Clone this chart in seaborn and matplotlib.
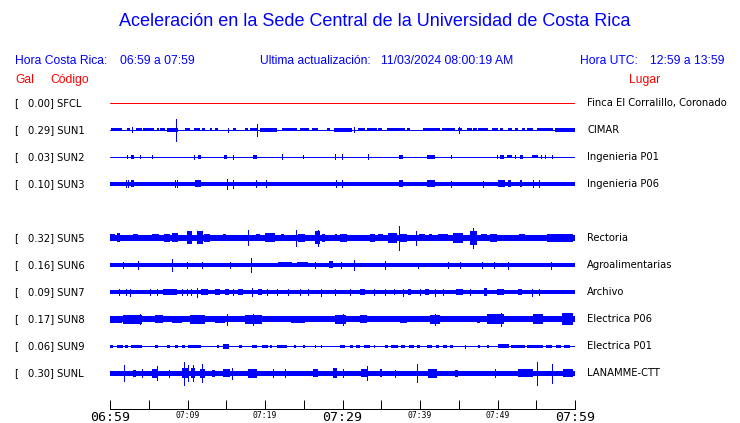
import numpy as np
import pandas as pd
import seaborn as sns
import matplotlib
matplotlib.use("Agg")
import matplotlib.pyplot as plt
from matplotlib.transforms import blended_transform_factory

# time axis: minutes after 06:59 (hora Costa Rica)
t_start, t_end = 0, 60
tick_minutes = list(range(0, 61, 5))
tick_labels = ["06:59", "", "07:09", "", "07:19", "", "07:29", "", "07:39", "", "07:49", "", "07:59"]
big_ticks = ["06:59", "07:29", "07:59"]

codes = ["SFCL", "SUN1", "SUN2", "SUN3", "SUN5", "SUN6", "SUN7", "SUN8", "SUN9", "SUNL"]
places = ["Finca El Corralillo, Coronado", "CIMAR", "Ingenieria P01", "Ingenieria P06",
          "Rectoria", "Agroalimentarias", "Archivo", "Electrica P06", "Electrica P01", "LANAMME-CTT"]
gal = [0.00, 0.29, 0.03, 0.10, 0.32, 0.16, 0.09, 0.17, 0.06, 0.30]
slot = [0, 1, 2, 3, 5, 6, 7, 8, 9, 10]   # SUN4 has no trace

# trace amplitudes (half height, in pixels of the 27 px row)
base_amp = [0.0, 0.5, 0.5, 2.2, 3.0, 2.2, 2.0, 3.0, 0.5, 2.5]

# (start min, end min, half height)
sfcl_blobs = []
sun1_blobs = [(0.1, 1.5, 1.5), (2.2, 2.6, 1.5), (3.4, 4.1, 1.5), (4.3, 5.7, 1.5), (6.1, 6.3, 1.5),
              (6.5, 7.1, 1.5), (7.4, 8.8, 1.8), (9.7, 10.3, 1.5), (10.8, 11.6, 1.5), (11.9, 12.3, 1.5),
              (12.9, 13.2, 1.5), (13.5, 13.9, 1.5), (15.9, 16.3, 1.5), (17.4, 17.8, 1.5), (18.1, 19.1, 1.5),
              (19.4, 21.5, 2.0), (22.2, 24.1, 1.5), (24.5, 25.7, 1.5), (26.1, 26.8, 1.5), (28.0, 28.4, 1.5),
              (28.9, 31.2, 1.8), (32.0, 32.9, 1.5), (33.2, 34.5, 1.5), (34.6, 35.1, 1.5), (35.7, 38.1, 1.5),
              (38.3, 38.7, 1.5), (40.4, 42.6, 1.5), (42.8, 44.5, 1.5), (44.9, 45.4, 1.5), (46.1, 46.7, 1.5),
              (46.8, 47.4, 1.5), (47.5, 48.8, 1.5), (49.3, 50.1, 1.5), (50.3, 50.7, 1.5), (51.4, 51.9, 1.5),
              (52.3, 52.6, 1.5), (53.2, 53.5, 1.5), (53.8, 54.6, 1.5), (55.1, 57.2, 1.5), (57.4, 60.0, 2.0)]
sun2_blobs = [(2.7, 3.1, 2.0), (11.4, 11.7, 2.0), (14.7, 15.1, 2.0), (18.5, 19.0, 2.0), (37.3, 37.8, 2.0),
              (40.9, 41.9, 2.0), (50.3, 50.8, 2.0), (51.2, 51.9, 1.5), (52.9, 53.3, 2.0), (54.5, 55.2, 1.5)]
sun3_blobs = [(2.7, 3.1, 3.5), (11.0, 11.7, 3.5), (37.3, 37.8, 3.5), (40.9, 41.9, 3.5), (50.1, 51.0, 3.5),
              (51.3, 51.7, 3.5), (52.9, 53.2, 3.5)]
sun5_blobs = [(0.0, 0.6, 3.5), (0.9, 1.3, 4.5), (3.0, 3.6, 3.5), (5.4, 6.3, 3.5), (7.0, 7.7, 4.0),
              (8.0, 8.8, 4.5), (9.9, 10.6, 6.5), (11.2, 12.0, 6.5), (12.1, 12.9, 4.0), (14.6, 15.0, 3.5),
              (18.9, 19.3, 3.5), (20.0, 21.3, 4.5), (22.1, 22.5, 3.5), (24.3, 25.2, 4.0), (26.5, 27.1, 6.5),
              (27.3, 27.7, 4.0), (29.0, 29.3, 3.5), (29.7, 30.6, 4.0), (33.5, 34.2, 4.0), (34.6, 35.2, 3.5),
              (35.9, 37.0, 5.0), (37.4, 38.3, 4.0), (39.9, 40.7, 3.5), (41.2, 41.6, 3.5), (42.3, 43.6, 3.5),
              (44.3, 45.5, 5.0), (46.5, 47.4, 7.0), (47.9, 48.7, 3.5), (49.0, 49.9, 4.0), (52.8, 53.6, 3.5),
              (56.4, 59.7, 4.0)]
sun6_blobs = [(21.7, 23.5, 2.5), (24.1, 25.5, 2.5), (28.3, 28.8, 3.5)]
sun7_blobs = [(6.9, 8.6, 3.0), (11.8, 12.7, 3.0), (13.5, 14.2, 3.0), (14.8, 15.3, 3.0), (16.5, 17.1, 3.0),
              (19.1, 19.6, 3.0), (32.3, 32.9, 3.0), (36.6, 36.8, 3.0), (38.5, 38.9, 3.0), (40.6, 41.1, 3.0),
              (44.7, 45.6, 3.0), (48.2, 48.6, 3.5), (49.9, 50.8, 3.0), (52.7, 53.1, 3.0)]
sun8_blobs = [(0.0, 1.5, 3.5), (1.7, 4.1, 4.5), (5.8, 6.9, 4.0), (8.0, 9.3, 3.5), (10.3, 12.3, 4.5),
              (13.5, 14.8, 3.5), (17.4, 19.6, 4.5), (23.4, 25.2, 3.5), (29.0, 30.5, 4.5), (32.3, 33.1, 4.0),
              (37.4, 38.3, 3.5), (41.3, 42.6, 4.5), (47.3, 47.7, 3.5), (48.6, 50.8, 5.0), (54.6, 55.9, 5.0),
              (58.3, 59.8, 6.0)]
sun9_blobs = [(0.0, 0.4, 1.5), (0.9, 1.7, 1.5), (1.9, 2.3, 1.5), (2.7, 4.1, 1.5), (5.8, 6.2, 1.5),
              (7.3, 7.7, 1.5), (8.4, 8.8, 1.5), (9.3, 9.7, 1.5), (10.1, 11.8, 1.5), (13.8, 14.0, 1.5),
              (14.6, 15.4, 2.5), (16.6, 17.0, 1.5), (18.3, 19.0, 1.5), (19.6, 20.4, 1.5), (20.6, 20.9, 1.5),
              (21.5, 22.8, 1.5), (23.8, 24.0, 1.5), (24.9, 25.1, 1.5), (26.4, 26.6, 1.5), (27.2, 27.4, 1.5),
              (29.7, 30.3, 1.5), (31.0, 31.4, 1.5), (31.8, 32.3, 1.5), (32.8, 33.5, 1.5), (34.0, 34.2, 1.5),
              (35.5, 35.9, 1.5), (36.3, 37.2, 1.5), (37.6, 38.1, 1.5), (38.6, 39.2, 1.5), (39.6, 40.0, 1.5),
              (40.9, 41.6, 1.5), (42.0, 42.5, 1.5), (43.0, 43.5, 1.5), (43.9, 44.3, 1.5), (47.5, 47.7, 1.5),
              (48.6, 48.9, 1.5), (50.1, 51.5, 2.0), (51.8, 53.5, 1.5), (53.8, 55.9, 1.5), (56.3, 57.0, 1.5),
              (57.5, 58.2, 1.5), (58.6, 59.3, 1.5)]
sunl_blobs = [(3.0, 3.4, 3.5), (5.4, 6.1, 4.5), (9.3, 10.2, 5.0), (10.5, 11.0, 5.0), (11.6, 12.3, 4.5),
              (13.2, 13.6, 3.5), (14.6, 15.5, 4.0), (17.8, 19.0, 4.5), (26.2, 26.8, 4.0), (28.8, 29.3, 5.0),
              (32.4, 33.2, 4.0), (34.8, 35.1, 4.0), (41.0, 42.2, 4.5), (44.5, 44.9, 3.5), (52.6, 54.6, 4.0),
              (58.5, 59.7, 4.0)]

# (minute, half height) single spikes
sfcl_spikes = []
sun1_spikes = [(8.5, 11.0), (19.0, 6.0), (45.0, 3.0), (2.8, 2.5), (15.2, 2.0), (31.5, 2.5)]
sun2_spikes = [(2.15, 1.5), (3.9, 1.5), (5.4, 1.5), (10.8, 2.0), (15.9, 2.0), (22.2, 2.5), (24.9, 1.5),
               (29.0, 2.5), (29.9, 2.5), (33.3, 2.5), (44.0, 1.5), (49.9, 1.5), (52.3, 1.5), (55.6, 1.5),
               (56.1, 1.5), (57.0, 1.5)]
sun3_spikes = [(2.1, 3.5), (2.3, 3.5), (8.4, 3.5), (8.6, 3.5), (15.1, 5.0), (15.9, 4.0), (18.8, 3.5),
               (20.1, 3.5), (29.2, 3.5), (29.9, 3.5), (44.0, 3.0), (48.1, 3.0), (54.6, 3.5), (55.4, 3.5)]
sun5_spikes = [(17.8, 7.5), (24.0, 8.3), (26.8, 8.0), (37.3, 12.0), (39.5, 7.0), (46.8, 10.0)]
sun6_spikes = [(1.7, 3.0), (3.6, 4.0), (8.0, 6.0), (9.9, 3.0), (11.9, 3.0), (15.5, 3.0), (18.2, 7.0),
               (26.5, 3.0), (29.8, 3.0), (31.5, 5.0), (35.5, 4.0), (39.7, 2.5), (43.6, 3.0), (45.2, 3.0),
               (48.0, 3.0), (49.5, 3.0), (51.4, 3.5), (56.9, 3.5)]
sun7_spikes = [(1.1, 3.0), (2.0, 3.0), (2.6, 3.5), (5.2, 3.0), (6.0, 3.0), (9.3, 3.0), (9.9, 3.0),
               (10.5, 3.0), (11.2, 4.5), (15.9, 3.0), (18.3, 4.0), (20.2, 3.0), (21.5, 3.0), (23.0, 3.0),
               (24.5, 3.0), (25.6, 3.0), (27.2, 3.5), (29.0, 3.0), (31.0, 3.0), (34.0, 3.0), (35.5, 3.0),
               (37.8, 3.5), (40.0, 3.0), (41.9, 3.5), (43.0, 3.0), (46.5, 3.0), (54.5, 3.5), (55.3, 3.0)]
sun8_spikes = [(3.9, 5.0), (15.1, 5.5), (18.5, 5.5), (30.1, 5.5), (41.9, 5.5), (50.5, 6.5)]
sun9_spikes = [(45.8, 1.5)]
sunl_spikes = [(1.8, 7.7), (4.1, 4.0), (6.1, 7.0), (7.6, 3.5), (9.5, 11.5), (10.0, 8.0), (10.7, 8.0),
               (11.9, 9.0), (15.7, 5.5), (21.0, 4.0), (22.6, 4.0), (30.0, 4.0), (33.2, 7.0), (36.8, 3.5),
               (39.6, 9.3), (49.7, 4.0), (55.1, 11.5), (57.0, 9.5)]

blobs = [sfcl_blobs, sun1_blobs, sun2_blobs, sun3_blobs, sun5_blobs,
         sun6_blobs, sun7_blobs, sun8_blobs, sun9_blobs, sunl_blobs]
spikes = [sfcl_spikes, sun1_spikes, sun2_spikes, sun3_spikes, sun5_spikes,
          sun6_spikes, sun7_spikes, sun8_spikes, sun9_spikes, sunl_spikes]

BLUE = "#0000ff"
RED = "#ff0000"
ROW = 27  # pixels between traces
PX = 0.72  # one pixel in points at dpi 100

sns.set_style("white")
plt.rcParams["font.family"] = ["DejaVu Sans"]
plt.rcParams["text.color"] = "black"
plt.rcParams["xtick.color"] = "black"

W, H = 740, 423
fig = plt.figure(figsize=(W / 100, H / 100), dpi=100)
ax = fig.add_axes([110 / W, 1 - 409 / H, 465 / W, (409 - 90) / H])

colors = {c: (RED if c == "SFCL" else BLUE) for c in codes}
ypos = [-ROW * s for s in slot]

# baseline of each trace
df = pd.DataFrame({
    "t": [t for _ in codes for t in (t_start, t_end)],
    "y": [y for y in ypos for _ in (0, 1)],
    "code": [c for c in codes for _ in (0, 1)],
})
sns.lineplot(data=df, x="t", y="y", hue="code", palette=colors, estimator=None,
             sort=False, legend=False, lw=PX, ax=ax)

for i, code in enumerate(codes):
    y0 = ypos[i]
    col = colors[code]
    if base_amp[i] > 0.5:
        ax.fill_between([t_start, t_end], y0 - base_amp[i], y0 + base_amp[i],
                        color=col, lw=0, antialiased=False)
    for a, b, amp in blobs[i]:
        ax.fill_between([a, b], y0 - amp, y0 + amp, color=col, lw=0, antialiased=False)
    if spikes[i]:
        st = np.array(spikes[i])
        ax.vlines(st[:, 0], y0 - st[:, 1], y0 + st[:, 1], color=col, lw=PX, antialiased=False)

ax.set_xlim(t_start, t_end)
ax.set_ylim(-(409 - 103), 103 - 90)
ax.set_yticks([])
ax.set_xlabel("")
ax.set_ylabel("")
for s in ["top", "left", "right"]:
    ax.spines[s].set_visible(False)
ax.spines["bottom"].set_color("black")
ax.spines["bottom"].set_linewidth(PX)
ax.set_xticks(tick_minutes)
ax.set_xticklabels(tick_labels, family="DejaVu Sans Mono")
ax.tick_params(axis="x", bottom=True, direction="in", length=6.8, width=PX,
               color="black", labelcolor="black", pad=1.5)
for lab in ax.get_xticklabels():
    lab.set_fontsize(9.5 if lab.get_text() in big_ticks else 5.8)
ax.patch.set_alpha(0)

# station labels
tr = blended_transform_factory(fig.transFigure, ax.transData)
for i, code in enumerate(codes):
    fig.text(14 / W, ypos[i], "[", transform=tr, va="center", fontsize=7.2)
    fig.text(27.5 / W, ypos[i], f"{gal[i]:.2f}] {code}", transform=tr, va="center", fontsize=7.2)
    fig.text(587 / W, ypos[i], places[i], transform=tr, va="center", fontsize=7.2)

# header
hf = "Liberation Sans"
hs = 8.7
fig.text(375 / W, 1 - 22 / H, "Aceleración en la Sede Central de la Universidad de Costa Rica",
         ha="center", va="center", color=BLUE, family=hf, fontsize=13)
fig.text(15 / W, 1 - 61 / H, "Hora Costa Rica:", va="center", color=BLUE, family=hf, fontsize=hs)
fig.text(120 / W, 1 - 61 / H, "06:59 a 07:59", va="center", color=BLUE, family=hf, fontsize=hs)
fig.text(260 / W, 1 - 61 / H, "Ultima actualización:", va="center", color=BLUE, family=hf, fontsize=hs)
fig.text(381 / W, 1 - 61 / H, "11/03/2024 08:00:19 AM", va="center", color=BLUE, family=hf, fontsize=hs)
fig.text(580 / W, 1 - 61 / H, "Hora UTC:", va="center", color=BLUE, family=hf, fontsize=hs)
fig.text(650 / W, 1 - 61 / H, "12:59 a 13:59", va="center", color=BLUE, family=hf, fontsize=hs)
fig.text(15 / W, 1 - 80 / H, "Gal", va="center", color=RED, family=hf, fontsize=hs)
fig.text(50 / W, 1 - 80 / H, "Código", va="center", color=RED, family=hf, fontsize=hs)
fig.text(629 / W, 1 - 80 / H, "Lugar", va="center", color=RED, family=hf, fontsize=hs)

fig.savefig("out.png", dpi=100, facecolor="white")
